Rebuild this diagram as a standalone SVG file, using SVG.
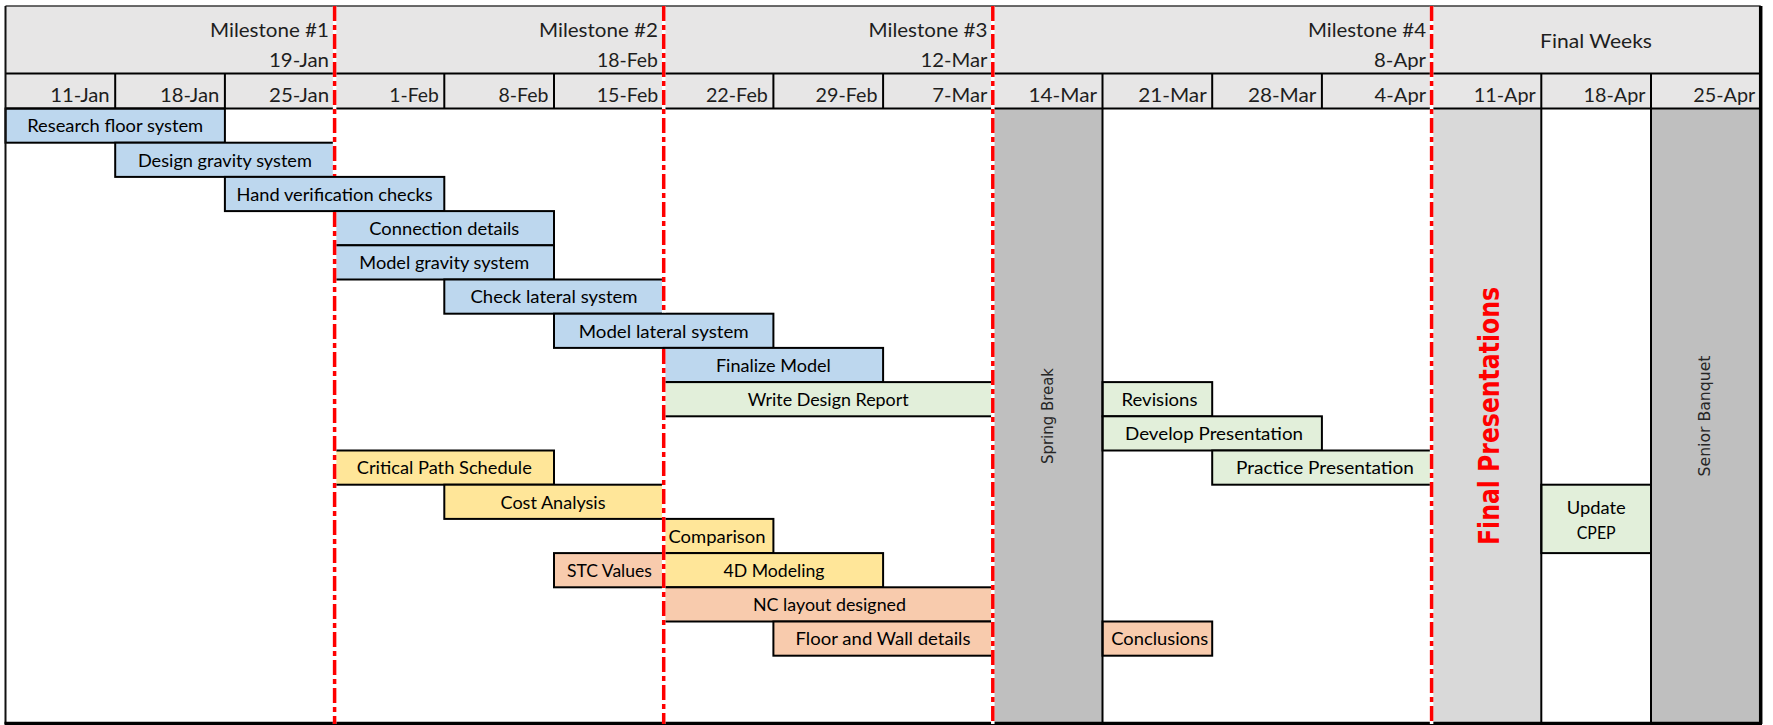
<svg xmlns="http://www.w3.org/2000/svg" width="1773" height="725" viewBox="0 0 1773 725">
<style>
.bar{stroke:#000;stroke-width:2}
.blue{fill:#bdd7ee}
.green{fill:#e2efda}
.yellow{fill:#ffe699}
.orange{fill:#f8cbad}
.lbl{font-family:Lato,"Liberation Sans",sans-serif;font-size:18px;fill:#000;text-anchor:middle}
.hd{font-family:Lato,"Liberation Sans",sans-serif;font-size:20px;fill:#1e1e1e;text-anchor:end}
.ms{font-family:Lato,"Liberation Sans",sans-serif;font-size:19px;fill:#1e1e1e;text-anchor:end}
.grid{stroke:#000;stroke-width:2;fill:none}
.under{stroke:#fff;stroke-width:3.5}
.red{stroke:#ff0000;stroke-width:3.5;stroke-dasharray:15 4 5 4}
.vt{font-family:"DejaVu Sans",Verdana,sans-serif;font-size:15px;fill:#262626;text-anchor:middle}
</style>
<rect x="0" y="0" width="1773" height="725" fill="#fff"/>
<g id="header">
<rect x="5.5" y="6" width="1755.2" height="102.5" fill="#e7e6e6"/>
<text class="ms" x="329" y="37" textLength="119" lengthAdjust="spacingAndGlyphs">Milestone #1</text>
<text class="ms" x="329" y="67" textLength="60" lengthAdjust="spacingAndGlyphs">19-Jan</text>
<text class="ms" x="658" y="37" textLength="119" lengthAdjust="spacingAndGlyphs">Milestone #2</text>
<text class="ms" x="658" y="67" textLength="61" lengthAdjust="spacingAndGlyphs">18-Feb</text>
<text class="ms" x="987.5" y="37" textLength="119" lengthAdjust="spacingAndGlyphs">Milestone #3</text>
<text class="ms" x="987.5" y="67" textLength="67" lengthAdjust="spacingAndGlyphs">12-Mar</text>
<text class="ms" x="1426" y="37" textLength="118" lengthAdjust="spacingAndGlyphs">Milestone #4</text>
<text class="ms" x="1426" y="67" textLength="52" lengthAdjust="spacingAndGlyphs">8-Apr</text>
<text class="ms" x="1596" y="48" style="text-anchor:middle" textLength="112" lengthAdjust="spacingAndGlyphs">Final Weeks</text>
<text class="hd" x="109.7" y="101.5" textLength="59.5" lengthAdjust="spacingAndGlyphs">11-Jan</text>
<text class="hd" x="219.4" y="101.5" textLength="59.5" lengthAdjust="spacingAndGlyphs">18-Jan</text>
<text class="hd" x="329.1" y="101.5" textLength="60" lengthAdjust="spacingAndGlyphs">25-Jan</text>
<text class="hd" x="438.8" y="101.5" textLength="49.5" lengthAdjust="spacingAndGlyphs">1-Feb</text>
<text class="hd" x="548.5" y="101.5" textLength="50" lengthAdjust="spacingAndGlyphs">8-Feb</text>
<text class="hd" x="658.2" y="101.5" textLength="61.5" lengthAdjust="spacingAndGlyphs">15-Feb</text>
<text class="hd" x="767.9" y="101.5" textLength="62" lengthAdjust="spacingAndGlyphs">22-Feb</text>
<text class="hd" x="877.6" y="101.5" textLength="62" lengthAdjust="spacingAndGlyphs">29-Feb</text>
<text class="hd" x="987.3" y="101.5" textLength="55" lengthAdjust="spacingAndGlyphs">7-Mar</text>
<text class="hd" x="1097" y="101.5" textLength="68.5" lengthAdjust="spacingAndGlyphs">14-Mar</text>
<text class="hd" x="1206.7" y="101.5" textLength="68.5" lengthAdjust="spacingAndGlyphs">21-Mar</text>
<text class="hd" x="1316.4" y="101.5" textLength="68.5" lengthAdjust="spacingAndGlyphs">28-Mar</text>
<text class="hd" x="1426.1" y="101.5" textLength="51.5" lengthAdjust="spacingAndGlyphs">4-Apr</text>
<text class="hd" x="1535.8" y="101.5" textLength="62" lengthAdjust="spacingAndGlyphs">11-Apr</text>
<text class="hd" x="1645.5" y="101.5" textLength="62" lengthAdjust="spacingAndGlyphs">18-Apr</text>
<text class="hd" x="1755.2" y="101.5" textLength="62" lengthAdjust="spacingAndGlyphs">25-Apr</text>
</g>
<g id="spring-break">
<rect x="992.8" y="108.5" width="109.7" height="616" fill="#bfbfbf"/>
<text class="vt" transform="translate(1052.5,416) rotate(-90)" textLength="96" lengthAdjust="spacingAndGlyphs">Spring Break</text>
</g>
<g id="final-presentations">
<rect x="1431.6" y="108.5" width="109.7" height="616" fill="#d9d9d9"/>
<text transform="translate(1499,416) rotate(-90)" font-family="'DejaVu Sans',Verdana,sans-serif" font-size="29" font-weight="bold" fill="#ff0000" text-anchor="middle" textLength="258" lengthAdjust="spacingAndGlyphs">Final Presentations</text>
</g>
<g id="senior-banquet">
<rect x="1651" y="108.5" width="109.7" height="616" fill="#bfbfbf"/>
<text class="vt" transform="translate(1710,416) rotate(-90)" textLength="121" lengthAdjust="spacingAndGlyphs">Senior Banquet</text>
</g>
<g id="research-floor-system"><rect class="bar blue" x="5.5" y="108.5" width="219.4" height="34.2"/><text class="lbl" x="115.2" y="132.3" textLength="176" lengthAdjust="spacingAndGlyphs">Research floor system</text></g>
<g id="design-gravity-system"><rect class="bar blue" x="115.2" y="142.7" width="219.4" height="34.2"/><text class="lbl" x="224.9" y="166.5" textLength="174" lengthAdjust="spacingAndGlyphs">Design gravity system</text></g>
<g id="hand-verification-checks"><rect class="bar blue" x="224.9" y="176.9" width="219.4" height="34.2"/><text class="lbl" x="334.6" y="200.7" textLength="196" lengthAdjust="spacingAndGlyphs">Hand verification checks</text></g>
<g id="connection-details"><rect class="bar blue" x="334.6" y="211.1" width="219.4" height="34.2"/><text class="lbl" x="444.3" y="234.9" textLength="150" lengthAdjust="spacingAndGlyphs">Connection details</text></g>
<g id="model-gravity-system"><rect class="bar blue" x="334.6" y="245.3" width="219.4" height="34.2"/><text class="lbl" x="444.3" y="269.1" textLength="170" lengthAdjust="spacingAndGlyphs">Model gravity system</text></g>
<g id="check-lateral-system"><rect class="bar blue" x="444.3" y="279.5" width="219.4" height="34.2"/><text class="lbl" x="554" y="303.3" textLength="167" lengthAdjust="spacingAndGlyphs">Check lateral system</text></g>
<g id="model-lateral-system"><rect class="bar blue" x="554" y="313.7" width="219.4" height="34.2"/><text class="lbl" x="663.7" y="337.5" textLength="170" lengthAdjust="spacingAndGlyphs">Model lateral system</text></g>
<g id="finalize-model"><rect class="bar blue" x="663.7" y="347.9" width="219.4" height="34.2"/><text class="lbl" x="773.4" y="371.7" textLength="115" lengthAdjust="spacingAndGlyphs">Finalize Model</text></g>
<g id="write-design-report"><rect class="bar green" x="663.7" y="382.1" width="329.1" height="34.2"/><text class="lbl" x="828.2" y="405.9" textLength="161" lengthAdjust="spacingAndGlyphs">Write Design Report</text></g>
<g id="revisions"><rect class="bar green" x="1102.5" y="382.1" width="109.7" height="34.2"/><text class="lbl" x="1159.5" y="405.9" textLength="76" lengthAdjust="spacingAndGlyphs">Revisions</text></g>
<g id="develop-presentation"><rect class="bar green" x="1102.5" y="416.3" width="219.4" height="34.2"/><text class="lbl" x="1214" y="440.1" textLength="178" lengthAdjust="spacingAndGlyphs">Develop Presentation</text></g>
<g id="critical-path-schedule"><rect class="bar yellow" x="334.6" y="450.5" width="219.4" height="34.2"/><text class="lbl" x="444.3" y="474.3" textLength="175" lengthAdjust="spacingAndGlyphs">Critical Path Schedule</text></g>
<g id="practice-presentation"><rect class="bar green" x="1212.2" y="450.5" width="219.4" height="34.2"/><text class="lbl" x="1325" y="474.3" textLength="178" lengthAdjust="spacingAndGlyphs">Practice Presentation</text></g>
<g id="cost-analysis"><rect class="bar yellow" x="444.3" y="484.7" width="219.4" height="34.2"/><text class="lbl" x="553" y="508.5" textLength="105" lengthAdjust="spacingAndGlyphs">Cost Analysis</text></g>
<g id="update-cpep"><rect class="bar green" x="1541.3" y="484.7" width="109.7" height="68.4"/><text class="lbl" x="1596.2" y="513.5" textLength="59" lengthAdjust="spacingAndGlyphs">Update</text><text class="lbl" x="1596.2" y="538.5" textLength="39" lengthAdjust="spacingAndGlyphs">CPEP</text></g>
<g id="comparison"><rect class="bar yellow" x="663.7" y="518.9" width="109.7" height="34.2"/><text class="lbl" x="717" y="542.7" textLength="97" lengthAdjust="spacingAndGlyphs">Comparison</text></g>
<g id="stc-values"><rect class="bar orange" x="554" y="553.1" width="109.7" height="34.2"/><text class="lbl" x="609.4" y="576.9" textLength="85" lengthAdjust="spacingAndGlyphs">STC Values</text></g>
<g id="4d-modeling"><rect class="bar yellow" x="663.7" y="553.1" width="219.4" height="34.2"/><text class="lbl" x="774" y="576.9" textLength="101" lengthAdjust="spacingAndGlyphs">4D Modeling</text></g>
<g id="nc-layout-designed"><rect class="bar orange" x="663.7" y="587.3" width="329.1" height="34.2"/><text class="lbl" x="829.5" y="611.1" textLength="153" lengthAdjust="spacingAndGlyphs">NC layout designed</text></g>
<g id="floor-and-wall-details"><rect class="bar orange" x="773.4" y="621.5" width="219.4" height="34.2"/><text class="lbl" x="883" y="645.3" textLength="175" lengthAdjust="spacingAndGlyphs">Floor and Wall details</text></g>
<g id="conclusions"><rect class="bar orange" x="1102.5" y="621.5" width="109.7" height="34.2"/><text class="lbl" x="1159.7" y="645.3" textLength="97" lengthAdjust="spacingAndGlyphs">Conclusions</text></g>
<g id="grid">
<path class="grid" d="M5.5 73.5H1760.7M5.5 108.5H1760.7"/>
<path class="grid" d="M115.2 73.5V108.5M224.9 73.5V108.5M444.3 73.5V108.5M554 73.5V108.5M773.4 73.5V108.5M883.1 73.5V108.5M1212.2 73.5V108.5M1321.9 73.5V108.5M1651 73.5V108.5"/>
<path class="grid" d="M1102.5 73.5V724M1541.3 73.5V724M1651 108.5V724"/>
<path d="M5.5 6H1760.7" stroke="#3a3a3a" stroke-width="1.5"/>
<path d="M5.5 6V724" stroke="#111" stroke-width="2"/>
<path d="M1760.7 6V724M4.5 723.5H1762" stroke="#000" stroke-width="3.5"/>
</g>
<g id="connectors">
<path class="under" d="M334.6 6V175.9M334.6 212.1V724M663.7 6V312.7M663.7 348.9V724M992.8 6V724M1431.6 6V724"/>
<path class="red" d="M334.6 6V175.9M334.6 212.1V724M663.7 6V312.7M663.7 348.9V724M992.8 6V724M1431.6 6V724"/>
</g>
</svg>
